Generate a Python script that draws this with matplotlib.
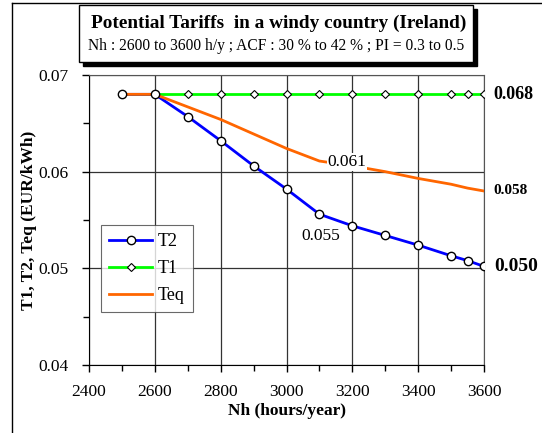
import matplotlib
matplotlib.use("Agg")
import matplotlib.pyplot as plt
from matplotlib.patches import Rectangle
from matplotlib.lines import Line2D
from matplotlib.ticker import MultipleLocator

plt.rcParams['font.family'] = ['Liberation Serif', 'DejaVu Serif']

# data
nh = [2500, 2600, 2700, 2800, 2900, 3000, 3100, 3200, 3300, 3400, 3500, 3550, 3600]
t2 = [0.068, 0.068, 0.0657, 0.0632, 0.0606, 0.0582, 0.0556, 0.0544, 0.0534, 0.0524, 0.0513, 0.0508, 0.0502]
t1 = [0.068] * len(nh)
teq = [0.068, 0.068, 0.0667, 0.0654, 0.0639, 0.0624, 0.0611, 0.0606, 0.0600, 0.0593, 0.0587, 0.0583, 0.0580]

title = "Potential Tariffs  in a windy country (Ireland)"
subtitle = "Nh : 2600 to 3600 h/y ; ACF : 30 % to 42 % ; PI = 0.3 to 0.5"

W, H = 542, 433
fig = plt.figure(figsize=(W / 100, H / 100), dpi=100)
ax = fig.add_axes([89 / W, 1 - 365 / H, (484 - 89) / W, (365 - 75) / H])

ax.plot(nh, t1, color='#00ff00', lw=2, marker='D', ms=4, mfc='white', mec='black',
        mew=0.8, label='T1', zorder=3)
ax.plot(nh, t2, color='#0000ff', lw=2, zorder=3)
ax.plot(nh, teq, color='#ff6600', lw=2, label='Teq', zorder=4)
ax.plot(nh, t2, ls='none', marker='o', ms=6, mfc='white', mec='black', mew=1, zorder=5)
# legend handle for T2
h2, = ax.plot([], [], color='#0000ff', lw=2, marker='o', ms=6, mfc='white', mec='black', mew=1, label='T2')

ax.set_xlim(2400, 3600)
ax.set_ylim(0.04, 0.07)
ax.xaxis.set_major_locator(MultipleLocator(200))
ax.xaxis.set_minor_locator(MultipleLocator(100))
ax.yaxis.set_major_locator(MultipleLocator(0.01))
ax.yaxis.set_minor_locator(MultipleLocator(0.005))
ax.set_yticks([0.04, 0.05, 0.06, 0.07])
ax.set_yticklabels(["0.04", "0.05", "0.06", "0.07"])
ax.tick_params(which='both', direction='out', labelsize=12.5, width=1, color='black')
ax.tick_params(which='major', length=5)
ax.tick_params(which='minor', length=4)
ax.tick_params(axis='x', which='major', pad=9)
ax.tick_params(axis='y', which='major', pad=10)
ax.grid(True, which='major', color='#333333', lw=0.9)
for s in ax.spines.values():
    s.set_color('#555555')
ax.spines['left'].set_color('black')
ax.spines['bottom'].set_color('black')

ax.set_xlabel("Nh (hours/year)", fontsize=12.5, fontweight='bold', labelpad=2)
ax.set_ylabel("T1, T2, Teq (EUR/kWh)", fontsize=12.5, fontweight='bold', labelpad=1)

# value labels
ax.text(3630, 0.068, "0.068", fontsize=13, fontweight='bold', va='center', ha='left', clip_on=False)
ax.text(3630, 0.058, "0.058", fontsize=11, fontweight='bold', va='center', ha='left', clip_on=False)
ax.text(3630, 0.0502, "0.050", fontsize=14, fontweight='bold', va='center', ha='left', clip_on=False)
ax.text(3183, 0.0610, "0.061", fontsize=12.5, va='center', ha='center', zorder=6,
        bbox=dict(facecolor='white', edgecolor='none', pad=0.5))
ax.text(3103, 0.0533, "0.055", fontsize=12.5, va='center', ha='center')

leg = ax.legend(handles=[h2, ax.lines[0], ax.lines[2]], loc='upper left',
                bbox_to_anchor=((101 - 89) / 395, (365 - 225) / 290),
                fontsize=13, frameon=True, fancybox=False, edgecolor='#444444',
                handlelength=2.4, borderpad=0.45, labelspacing=0.55, handletextpad=0.3,
                borderaxespad=0)
leg.get_frame().set_linewidth(0.8)

# outer frame lines (left and top)
fig.add_artist(Line2D([12 / W, 12 / W], [0, 1 - 3 / H], transform=fig.transFigure, color='black', lw=1))
fig.add_artist(Line2D([12 / W, 1], [1 - 3 / H, 1 - 3 / H], transform=fig.transFigure, color='black', lw=1))

# title box with shadow
bx0, bx1, by0, by1 = 79, 473, 5, 62
fig.add_artist(Rectangle(((bx0 + 4) / W, 1 - (by1 + 4) / H), (bx1 - bx0) / W, (by1 - by0) / H,
                         transform=fig.transFigure, facecolor='black', edgecolor='black', zorder=5))
fig.add_artist(Rectangle((bx0 / W, 1 - by1 / H), (bx1 - bx0) / W, (by1 - by0) / H,
                         transform=fig.transFigure, facecolor='white', edgecolor='black', lw=1, zorder=6))
fig.text((bx0 + bx1) / 2 / W + 3 / W, 1 - 23 / H, title, fontsize=13.9, fontweight='bold',
         ha='center', va='center', zorder=7)
fig.text((bx0 + bx1) / 2 / W, 1 - 46 / H, subtitle, fontsize=11.2,
         ha='center', va='center', zorder=7)

fig.savefig("out.png", dpi=100)
